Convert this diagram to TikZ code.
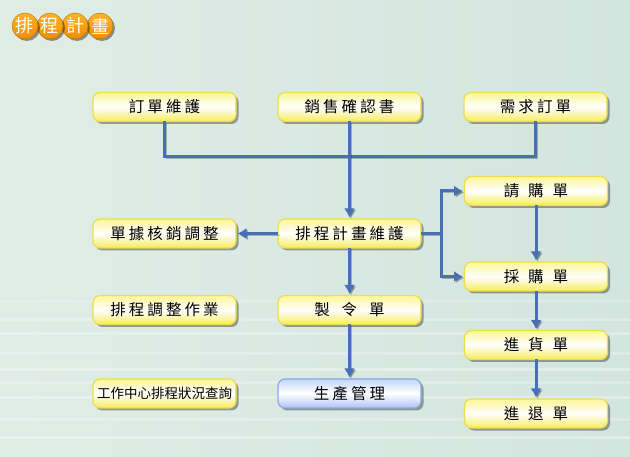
\documentclass[tikz,border=0pt]{standalone}
\usepackage{fontspec}
\newfontfamily\cjk[LetterSpace=20]{Noto Sans CJK TC}
\newfontfamily\cjkn{Noto Sans CJK TC}
\usetikzlibrary{shadows,arrows.meta,calc}
\definecolor{bgA}{RGB}{224,237,231}
\definecolor{bgB}{RGB}{210,229,222}
\definecolor{yedge}{RGB}{236,222,70}
\definecolor{ytop}{RGB}{252,246,150}
\definecolor{ybot}{RGB}{246,236,90}
\definecolor{bedge}{RGB}{140,168,228}
\definecolor{btop}{RGB}{196,214,250}
\definecolor{bbot}{RGB}{170,196,244}
\definecolor{lblue}{RGB}{72,110,182}
\definecolor{orA}{RGB}{252,180,40}
\definecolor{orB}{RGB}{240,140,0}
\newcommand\gp{\hspace{9pt}}
\newcommand\gq{\hspace{12pt}}
\tikzset{
  x=1pt, y=-1pt,
  ybox/.style={rounded corners=7pt, minimum width=143pt, minimum height=29pt,
    draw=yedge, line width=1.2pt, top color=ytop, bottom color=ybot, middle color=white,
    drop shadow={shadow xshift=2.5pt, shadow yshift=-2.5pt, fill=black, opacity=0.35},
    font=\cjk\fontsize{15.5}{15.5}\selectfont, text=black, inner sep=0pt, outer sep=0pt},
  bbox/.style={ybox, draw=bedge, top color=btop, bottom color=bbot, middle color=white},
  conn/.style={draw=lblue, line width=3pt,
    preaction={draw=black, opacity=0.25, transform canvas={shift={(1.5pt,-1.5pt)}}}},
  arr/.style={conn, -{Latex[length=9pt,width=11pt]}, shorten >=1.5pt},
  tc/.style={circle, minimum size=26pt, inner sep=0pt, top color=orA, bottom color=orB,
    draw=orB!80!black, line width=0.4pt,
    drop shadow={shadow xshift=2pt, shadow yshift=-2pt, fill=black, opacity=0.4},
    text=white, font=\cjkn\fontsize{18}{18}\selectfont},
}
\begin{document}
\begin{tikzpicture}
\useasboundingbox (0,0) rectangle (630,457);
\fill[left color=bgA, right color=bgB] (0,0) rectangle (630,457);
\foreach \yy/\op in {300/0.2,318/0.25,332/0.3,352/0.25,368/0.35,381/0.25,396/0.3,418/0.25,436/0.35}
  \fill[white, opacity=\op] (0,\yy) rectangle (630,\yy+3);
% title
\node[tc] (t4) at (100,26) {畫};
\node[tc] (t3) at (75,26) {計};
\node[tc] (t2) at (50,26) {程};
\node[tc] (t1) at (25,26) {排};
% boxes
\node[ybox] (a) at (164.5,107) {訂單維護};
\node[ybox] (b) at (349.5,107) {銷售確認書};
\node[ybox] (c) at (535.5,107) {需求訂單};
\node[ybox] (q) at (164.5,233.5) {單據核銷調整};
\node[ybox] (p) at (349.5,233.5) {排程計畫維護};
\node[ybox] (r) at (536,191) {請\gp 購\gp 單};
\node[ybox] (s) at (536,276.5) {採\gp 購\gp 單};
\node[ybox] (t) at (536,345) {進\gp 貨\gp 單};
\node[ybox] (u) at (536,413.5) {進\gp 退\gp 單};
\node[ybox] (h) at (164.5,310) {排程調整作業};
\node[ybox] (m) at (349.5,310) {製\gq 令\gq 單};
\node[bbox] (g) at (349.5,393.5) {生產管理};
\node[ybox, font=\cjkn\fontsize{13.5}{13.5}\selectfont] (w) at (164.5,393.5) {工作中心排程狀況查詢};
% connectors
\coordinate (bus) at (0,157);
\draw[conn, line join=miter] (a.south) -- (a.south |- bus) -| (c.south);
\draw[arr] (b.south) -- (p.north);
\draw[arr] (p.west) -- (q.east);
\coordinate (j) at (441,233.5);
\draw[conn] (p.east) -- (j);
\draw[arr, line join=miter] (j) |- (r.west);
\draw[arr, line join=miter] (j) |- (s.west);
\draw[arr] (r.south) -- (s.north);
\draw[arr] (s.south) -- (t.north);
\draw[arr] (t.south) -- (u.north);
\draw[arr] (p.south) -- (m.north);
\draw[arr] (m.south) -- (g.north);
\end{tikzpicture}
\end{document}
